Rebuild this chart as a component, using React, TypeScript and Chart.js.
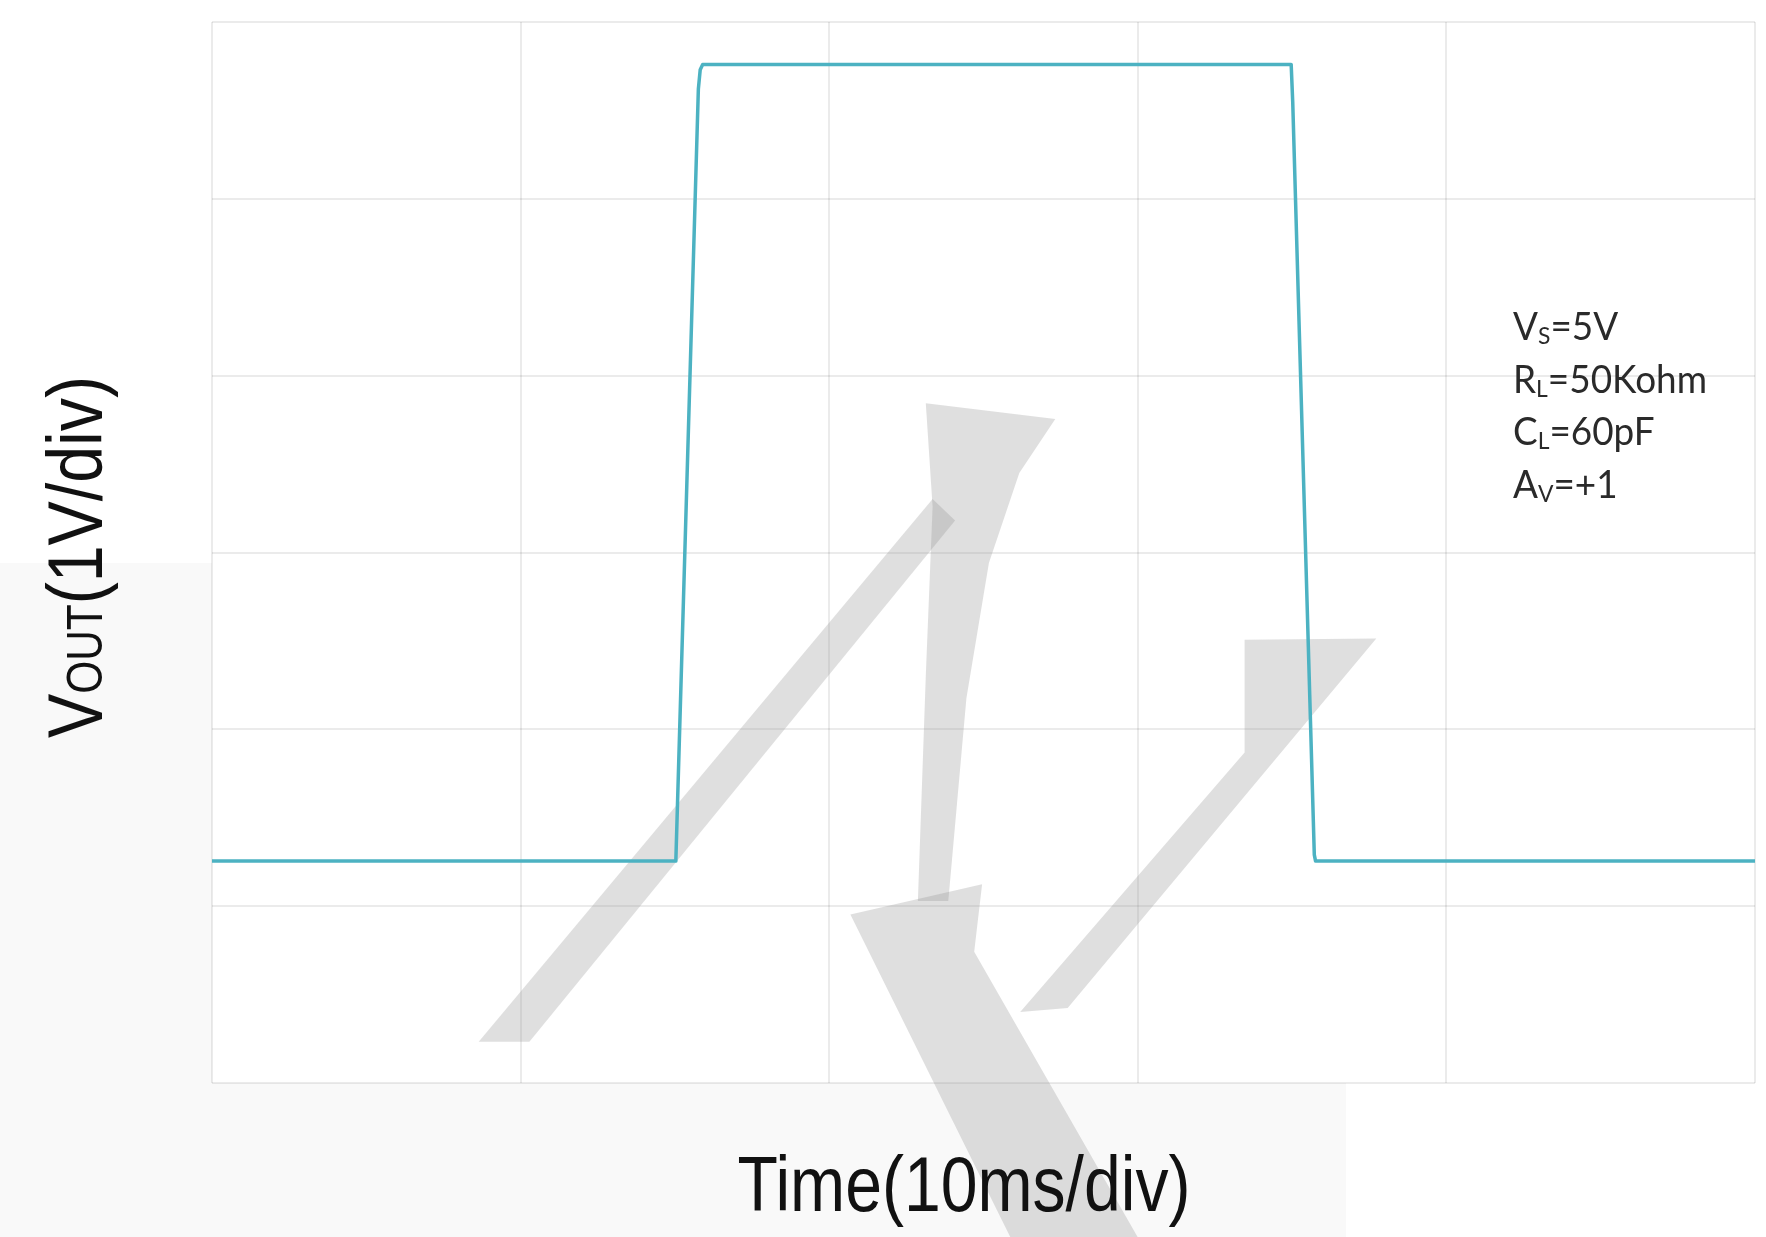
import React, { useEffect, useRef } from "react";
import { Chart, registerables } from "chart.js";

Chart.register(...registerables);

// ---- data (x in ms, y in divisions of 1 V, bottom grid line = 0) ----
const timeMs = [0, 15.03, 15.76, 15.82, 15.9, 34.97, 35.02, 35.72, 35.76, 50];
const voutDiv = [1.255, 1.255, 5.62, 5.73, 5.76, 5.76, 5.55, 1.29, 1.255, 1.255];
const xTicks = [0, 10, 20, 30, 40, 50];
const yTicks = [0, 1, 2, 3, 4, 5, 6];

type Run = { t: string; sub: boolean };
const xTitle: Run[] = [{ t: "Time(10ms/div)", sub: false }];
const yTitle: Run[] = [
  { t: "V", sub: false },
  { t: "OUT", sub: true },
  { t: "(1V/div)", sub: false },
];
const noteLines: Run[][] = [
  [{ t: "V", sub: false }, { t: "S", sub: true }, { t: "=5V", sub: false }],
  [{ t: "R", sub: false }, { t: "L", sub: true }, { t: "=50Kohm", sub: false }],
  [{ t: "C", sub: false }, { t: "L", sub: true }, { t: "=60pF", sub: false }],
  [{ t: "A", sub: false }, { t: "V", sub: true }, { t: "=+1", sub: false }],
];

// decorative watermark (page pixels)
const watermark: number[][][] = [
  [[478.7, 1041.8], [529.4, 1041.8], [955.1, 520.4], [932.6, 498.9]],
  [[925.8, 403.2], [1055.3, 419], [1019.3, 473], [988.9, 563.1], [966.4, 698.3], [948.3, 901], [917.9, 901], [925.8, 675.8], [932.6, 506.8]],
  [[850.4, 914.6], [982.1, 884.2], [974.2, 951.7], [1137.6, 1237], [1010.3, 1237]],
  [[1244.6, 639.7], [1376.3, 638.6], [1067.7, 1008], [1020.2, 1012], [1244.6, 752.4]],
];

function runsWidth(ctx: CanvasRenderingContext2D, runs: Run[], size: number, subScale: number, family: string) {
  let w = 0;
  for (const r of runs) {
    ctx.font = `${r.sub ? size * subScale : size}px ${family}`;
    w += ctx.measureText(r.t).width;
  }
  return w;
}

function drawRuns(ctx: CanvasRenderingContext2D, runs: Run[], size: number, subScale: number, subDy: number, family: string) {
  let x = 0;
  for (const r of runs) {
    ctx.font = `${r.sub ? size * subScale : size}px ${family}`;
    ctx.fillText(r.t, x, r.sub ? subDy : 0);
    x += ctx.measureText(r.t).width;
  }
}

const backgroundPlugin = {
  id: "bg",
  beforeDraw(chart: any) {
    const { ctx, chartArea } = chart;
    ctx.save();
    ctx.fillStyle = "#ffffff";
    ctx.fillRect(0, 0, chart.width, chart.height);
    ctx.fillStyle = "#f9f9f9";
    ctx.fillRect(0, 563, 1346, chart.height - 563);
    ctx.fillStyle = "#ffffff";
    ctx.fillRect(chartArea.left, chartArea.top, chartArea.right - chartArea.left, chartArea.bottom - chartArea.top);
    ctx.restore();
  },
  beforeDatasetsDraw(chart: any) {
    const { ctx } = chart;
    ctx.save();
    ctx.fillStyle = "rgba(150,150,150,0.3)";
    for (const poly of watermark) {
      ctx.beginPath();
      poly.forEach((p, i) => (i === 0 ? ctx.moveTo(p[0], p[1]) : ctx.lineTo(p[0], p[1])));
      ctx.closePath();
      ctx.fill();
    }
    ctx.restore();
  },
};

const textPlugin = {
  id: "texts",
  afterDraw(chart: any) {
    const ctx: CanvasRenderingContext2D = chart.ctx;
    const fam = '"Liberation Sans", Arial, sans-serif';
    ctx.save();
    ctx.fillStyle = "#111111";
    ctx.textBaseline = "alphabetic";
    ctx.textAlign = "left";

    // x title
    const xs = 78;
    const xw = runsWidth(ctx, xTitle, xs, 1, fam);
    const xTarget = 453;
    ctx.save();
    ctx.translate(964 - xTarget / 2, 1211);
    ctx.scale(xTarget / xw, 1);
    drawRuns(ctx, xTitle, xs, 1, 0, fam);
    ctx.restore();

    // y title
    const ys = 78;
    const ySub = 0.64;
    const yw = runsWidth(ctx, yTitle, ys, ySub, fam);
    const yTarget = 362;
    ctx.save();
    ctx.translate(102, 738);
    ctx.rotate(-Math.PI / 2);
    ctx.scale(yTarget / yw, 1);
    drawRuns(ctx, yTitle, ys, ySub, 0, fam);
    ctx.restore();

    // annotation
    const nf = 'Lato, "Open Sans", sans-serif';
    const ns = 38;
    const nSub = 0.62;
    const nw = runsWidth(ctx, noteLines[1], ns, nSub, nf);
    const nsx = 194 / nw;
    const baselines = [340, 393, 445, 498];
    ctx.fillStyle = "#2a2a2a";
    noteLines.forEach((line, i) => {
      ctx.save();
      ctx.translate(1513, baselines[i]);
      ctx.scale(nsx, 1);
      drawRuns(ctx, line, ns, nSub, 4, nf);
      ctx.restore();
    });
    ctx.restore();
  },
};

export default function App() {
  const ref = useRef<HTMLCanvasElement | null>(null);

  useEffect(() => {
    if (!ref.current) return;
    const chart = new Chart(ref.current, {
      type: "line",
      data: {
        datasets: [
          {
            data: timeMs.map((t, i) => ({ x: t, y: voutDiv[i] })),
            borderColor: "#4cb2c2",
            borderWidth: 3.5,
            pointRadius: 0,
            tension: 0,
            borderJoinStyle: "round",
            borderCapStyle: "butt",
            fill: false,
          },
        ],
      },
      options: {
        responsive: false,
        animation: false,
        layout: { padding: { left: 212, right: 11, top: 22, bottom: 154 } },
        plugins: { legend: { display: false }, tooltip: { enabled: false }, title: { display: false } },
        scales: {
          x: {
            type: "linear",
            min: xTicks[0],
            max: xTicks[xTicks.length - 1],
            afterBuildTicks: (s: any) => {
              s.ticks = xTicks.map((v) => ({ value: v }));
            },
            ticks: { display: false },
            grid: { color: "rgba(0,0,0,0.08)", lineWidth: 2, drawTicks: false },
            border: { display: false },
          },
          y: {
            type: "linear",
            min: yTicks[0],
            max: yTicks[yTicks.length - 1],
            afterBuildTicks: (s: any) => {
              s.ticks = yTicks.map((v) => ({ value: v }));
            },
            ticks: { display: false },
            grid: { color: "rgba(0,0,0,0.08)", lineWidth: 2, drawTicks: false },
            border: { display: false },
          },
        },
      },
      plugins: [backgroundPlugin, textPlugin],
    } as any);
    return () => chart.destroy();
  }, []);

  return (
    <div style={{ position: "absolute", left: 0, top: 0, width: 1766, height: 1237 }}>
      <canvas ref={ref} width={1766} height={1237} style={{ display: "block" }} />
    </div>
  );
}
